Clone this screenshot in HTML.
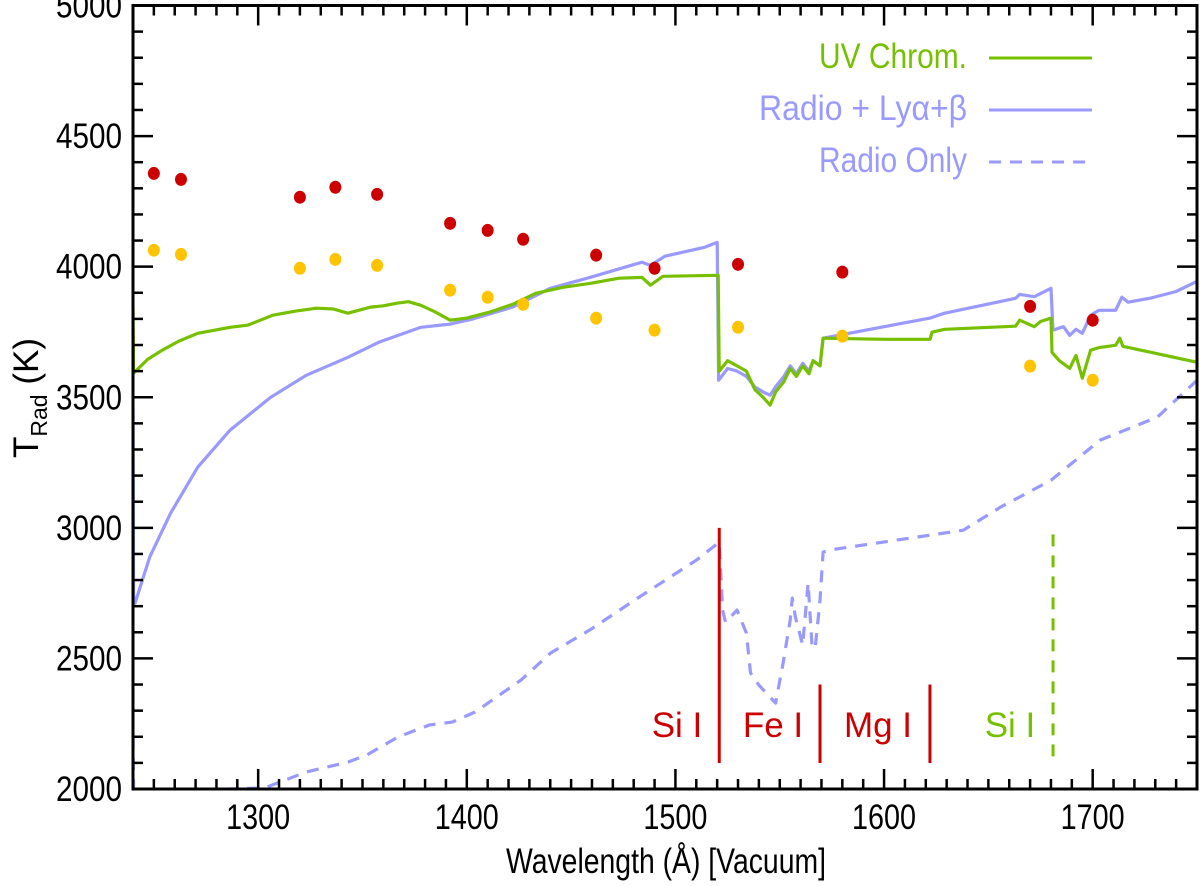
<!DOCTYPE html>
<html><head><meta charset="utf-8"><style>
html,body{margin:0;padding:0;background:#fff;}
svg{display:block;font-family:"Liberation Sans",sans-serif;}
</style></head><body>
<svg id="chart" width="1200" height="886" viewBox="0 0 1200 886" xmlns="http://www.w3.org/2000/svg">
<g id="marks"></g>
<g id="axes"></g>
<text x="666" y="873" text-anchor="middle" font-size="35" textLength="320" lengthAdjust="spacingAndGlyphs">Wavelength (Å) [Vacuum]</text>
<text transform="translate(38,398) rotate(-90)" text-anchor="middle" font-size="35">T<tspan font-size="23" dy="9">Rad</tspan><tspan dy="-9"> (K)</tspan></text>
<g>
<text x="967" y="68" text-anchor="end" font-size="35" fill="#77c000" textLength="148" lengthAdjust="spacingAndGlyphs">UV Chrom.</text>
<line x1="989" y1="58" x2="1092" y2="58" stroke="#77c000" stroke-width="3"/>
<text x="967" y="120" text-anchor="end" font-size="35" fill="#9999ff" textLength="208" lengthAdjust="spacingAndGlyphs">Radio + Lyα+β</text>
<line x1="989" y1="110" x2="1092" y2="110" stroke="#9999ff" stroke-width="3"/>
<text x="967" y="172" text-anchor="end" font-size="35" fill="#9999ff" textLength="148" lengthAdjust="spacingAndGlyphs">Radio Only</text>
<line x1="989" y1="162" x2="1092" y2="162" stroke="#9999ff" stroke-width="3" stroke-dasharray="12,9"/>
</g>
</svg>
<script>
const redWl = [1250,1263,1320,1337,1357,1392,1410,1427,1462,1490,1530,1580,1670,1700];
const redT = [4357,4334,4266,4304,4277,4166,4139,4105,4044,3994,4009,3979,3848,3795];
const yelWl = [1250,1263,1320,1337,1357,1392,1410,1427,1462,1490,1530,1580,1670,1700];
const yelT = [4063,4047,3994,4028,4005,3910,3883,3856,3803,3757,3768,3734,3619,3565];
const greenWl = [1240,1240.3,1247,1254,1262,1271,1286.5,1295,1307,1318,1328,1336,1343,1349,1354,1360,1366.5,1372,1378,1385,1392,1400,1411,1422,1433,1446,1459,1473,1484,1488,1494,1520.5,1521,1525,1529.5,1534,1538,1542,1545.4,1548,1552,1555,1558,1561,1564,1566,1569.3,1570.8,1600,1622,1623,1629,1663,1665,1672,1675,1680,1680.5,1684,1689,1692,1695,1699,1703,1711,1713,1714.5,1750];
const greenT = [3845,3592,3645,3680,3715,3745,3768,3776,3814,3830,3841,3838,3822,3835,3845,3850,3860,3866,3852,3826,3795,3803,3826,3856,3898,3921,3936,3956,3959,3929,3963,3967,3600,3640,3620,3600,3530,3500,3470,3520,3560,3610,3580,3620,3590,3640,3620,3726,3722,3722,3749,3760,3772,3795,3770,3790,3803,3672,3640,3611,3660,3573,3680,3690,3699,3726,3695,3634];
const blueWl = [1240,1240.3,1241,1248,1258,1271,1286.5,1306,1323,1343,1358,1378,1392,1403,1422,1440,1459,1484,1488,1495,1514,1520,1520.7,1525,1529.5,1534,1538,1542,1545.4,1548,1552,1555,1558,1561,1564,1566,1569.3,1570.8,1600,1622,1629,1663,1665,1672,1680,1681,1686,1689,1692,1695,1699,1703,1711,1714,1717,1728,1740,1750];
const blueT = [3462,2712,2712,2888,3056,3232,3374,3500,3584,3653,3711,3768,3780,3800,3845,3917,3959,4017,4005,4040,4074,4093,3565,3610,3600,3580,3540,3520,3508,3540,3580,3620,3590,3630,3600,3640,3620,3726,3770,3803,3822,3879,3894,3885,3917,3757,3770,3737,3760,3745,3814,3833,3833,3883,3864,3880,3905,3944];
const dashWl = [1240,1240.3,1303,1323,1343,1352,1367,1382,1393,1404,1426,1440,1459,1484,1510,1521,1522.6,1524,1529.5,1534,1536,1540,1545.4,1548,1551.6,1555,1556,1557.5,1561,1563.6,1565.5,1567,1569.3,1570.8,1574,1606,1638,1656,1680,1703.6,1731,1750];
const dashT = [2199,1990,2004,2065,2103,2130,2199,2245,2256,2295,2417,2520,2609,2742,2876,2945,2685,2639,2685,2597,2444,2398,2352,2329,2482,2647,2731,2658,2551,2788,2543,2540,2723,2907,2915,2953,2991,3080,3182,3336,3424,3565];
const xTicks = [1300,1400,1500,1600,1700];
const yTicks = [2000,2500,3000,3500,4000,4500,5000];
const NS = 'http://www.w3.org/2000/svg';
const L=133,R=1197,T0=5.5,B=789, XMIN=1240,XMAX=1750,YMIN=2000,YMAX=5000;
function xs(v){return L+(v-XMIN)/(XMAX-XMIN)*(R-L);}
function ys(v){return B-(v-YMIN)/(YMAX-YMIN)*(B-T0);}
const marks=document.getElementById('marks');
const axes=document.getElementById('axes');
function mk(tag,attrs,parent){const e=document.createElementNS(NS,tag);for(const k in attrs)e.setAttribute(k,attrs[k]);parent.appendChild(e);return e;}
const clip=mk('clipPath',{id:'pc'},document.getElementById('chart'));
mk('rect',{x:L,y:T0,width:R-L,height:B-T0},clip);
function line(wl,t,color,dash,name){
  const d=wl.map((w,i)=>(i?'L':'M')+xs(w).toFixed(1)+','+ys(t[i]).toFixed(1)).join('');
  const p=mk('path',{d:d,fill:'none',stroke:color,'stroke-width':3.2,'stroke-linejoin':'round','clip-path':'url(#pc)'},marks);
  if(dash)p.setAttribute('stroke-dasharray',dash);
  
  
}
line(dashWl,dashT,'#9999ff','12,9','radio-only-line');
line(blueWl,blueT,'#9999ff',null,'radio-lya-line');
line(greenWl,greenT,'#77c000',null,'uv-chrom-line');
const sepWl=[1521,1569.3,1622];
const sepTop=[3000,2400,2400];
sepWl.forEach((w,i)=>{
  const l=mk('line',{x1:xs(w),x2:xs(w),y1:ys(sepTop[i]),y2:763,stroke:'#cc0000','stroke-width':3},marks);
  
  
});
const g=mk('line',{x1:xs(1681),x2:xs(1681),y1:ys(2975),y2:763,stroke:'#77c000','stroke-width':3,'stroke-dasharray':'12,9'},marks);


const labs=[['Si I',677,'#cc0000'],['Fe I',773,'#cc0000'],['Mg I',878,'#cc0000'],['Si I',1010,'#77c000']];
labs.forEach(a=>{
  const t=mk('text',{x:a[1],y:737,'text-anchor':'middle','font-size':35,fill:a[2]},marks);
  t.textContent=a[0];
  
  
});
redWl.forEach((w,i)=>{
  const c=mk('ellipse',{cx:xs(w),cy:ys(redT[i]),rx:6,ry:6.5,fill:'#cc0000'},marks);
  
  
});
yelWl.forEach((w,i)=>{
  const c=mk('ellipse',{cx:xs(w),cy:ys(yelT[i]),rx:6,ry:6.5,fill:'#ffc400'},marks);
  
  
});
const fr=mk('rect',{x:L,y:T0,width:R-L,height:B-T0,fill:'none',stroke:'#000','stroke-width':3},axes);


for(let v=1250;v<=1750;v+=10){
  const maj=v%100===0, len=maj?20:10;
  mk('line',{x1:xs(v),x2:xs(v),y1:B,y2:B-len,stroke:'#000','stroke-width':2.5},axes);
  mk('line',{x1:xs(v),x2:xs(v),y1:T0,y2:T0+len,stroke:'#000','stroke-width':2.5},axes);
}
for(let v=2100;v<5000;v+=100){
  const maj=v%500===0, len=maj?20:10;
  mk('line',{x1:L,x2:L+len,y1:ys(v),y2:ys(v),stroke:'#000','stroke-width':2.5},axes);
  mk('line',{x1:R,x2:R-len,y1:ys(v),y2:ys(v),stroke:'#000','stroke-width':2.5},axes);
}
xTicks.forEach(v=>{
  const t=mk('text',{x:xs(v),y:829,'text-anchor':'middle','font-size':35,textLength:64,lengthAdjust:'spacingAndGlyphs'},axes);
  t.textContent=v;
  
  
});
yTicks.forEach(v=>{
  const t=mk('text',{x:122,y:ys(v)+12,'text-anchor':'end','font-size':35,textLength:66,lengthAdjust:'spacingAndGlyphs'},axes);
  t.textContent=v;
  
  
});
</script>
</body></html>
